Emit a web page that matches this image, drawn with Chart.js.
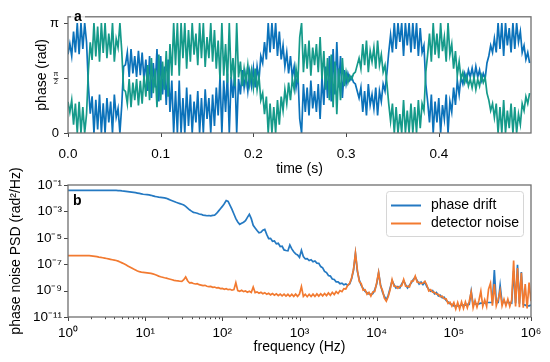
<!DOCTYPE html>
<html lang="en">
<head>
<meta charset="UTF-8" />
<title>Phase drift and PSD</title>
<script src="https://cdn.jsdelivr.net/npm/chart.js"></script>
<style>
  body { margin: 0; background: #fff; }
  canvas { position: absolute; left: 0; }
  #phaseChart { top: 0; }
  #psdChart { top: 150px; }
</style>
</head>
<body>
<canvas id="phaseChart" width="550" height="178"></canvas>
<canvas id="psdChart" width="550" height="212"></canvas>
<script>
// ---- panel a: wrapped phase (rad), one sample every 2 ms ----
const timeStep = 0.002;
const timeTicks = [0, 0.1, 0.2, 0.3, 0.4];
const phaseTicks = [0, Math.PI / 2, Math.PI];

const phaseBlue = [
  2.25, 2.55, 2.2, 2.9, 2.3, 3.14, 2.25, 3.14, 2.4, 3.14,
  2.6, 1.35, 0.55, 1.05, 0.0, 0.95, 0.1, 1.1, 0.0, 0.85,
  0.0, 1.0, 0.3, 0.9, 0.0, 1.1, 0.45, 0.7, 0.0, 0.8,
  1.9, 1.95, 2.3, 1.6, 2.4, 1.7, 2.2, 1.6, 2.35, 1.65,
  2.3, 1.5, 2.1, 1.2, 2.2, 1.0, 2.0, 1.3, 2.4, 0.9,
  2.2, 1.1, 1.9, 0.8, 2.1, 0.6, 1.5, 0.0, 1.2, 0.0,
  1.5, 0.0, 1.0, 0.0, 1.3, 0.2, 1.1, 0.0, 0.9, 0.3,
  1.2, 0.0, 1.0, 0.0, 1.25, 0.4, 1.0, 0.0, 1.1, 0.2,
  1.3, 0.5, 1.6, 0.0, 1.5, 0.6, 1.7, 0.0, 1.6, 1.0,
  1.8, 0.0, 1.55, 1.1, 1.8, 1.3, 1.7, 1.2, 1.75, 1.35,
  1.85, 1.3, 1.9, 1.5, 2.2, 2.0, 2.6, 2.1, 3.14, 2.3,
  3.14, 2.4, 3.14, 2.2, 2.9, 2.1, 2.5, 1.9, 2.3, 1.7,
  2.2, 1.6, 1.9, 1.3, 1.7, 0.4, 0.0, 1.4, 0.6, 1.3,
  0.5, 1.5, 0.7, 1.2, 0.6, 1.4, 0.4, 1.6, 0.8, 1.9,
  1.0, 2.2, 0.9, 2.4, 1.1, 2.6, 1.3, 2.2, 1.0, 1.8,
  1.4, 1.7, 1.5, 1.6, 1.45, 1.4, 1.2, 1.0, 1.3, 0.6,
  1.2, 0.5, 1.4, 0.8, 1.1, 0.7, 1.3, 0.5, 1.2, 0.9,
  1.4, 1.2, 1.7, 2.3, 2.8, 2.3, 3.14, 2.4, 3.14, 2.6,
  3.14, 2.2, 3.14, 2.5, 3.14, 2.3, 3.14, 2.4, 3.14, 2.2,
  3.0, 2.3, 2.5, 1.4, 0.9, 0.3, 1.1, 0.0, 0.9, 0.3,
  1.0, 0.0, 0.8, 0.4, 1.1, 0.0, 0.9, 0.6, 1.3, 0.8,
  1.5, 1.1, 1.6, 1.4, 1.7, 1.5, 1.8, 1.6, 1.85, 1.55,
  1.9, 1.6, 1.8, 1.5, 1.7, 1.55, 2.0, 2.2, 2.5, 2.3,
  2.7, 2.3, 3.14, 2.4, 3.14, 2.2, 3.14, 2.5, 3.0, 2.3,
  3.14, 2.4, 3.14, 2.6, 2.9, 2.3, 2.5, 2.1, 2.3, 2.0
];

const phaseTeal = [
  0.89, 0.59, 0.94, 0.24, 0.84, 0.0, 0.89, 0.0, 0.74, 0.0,
  0.54, 1.79, 2.59, 2.09, 3.14, 2.19, 3.04, 2.04, 3.14, 2.29,
  3.14, 2.14, 2.84, 2.24, 3.14, 2.04, 2.69, 2.44, 3.14, 2.34,
  1.24, 1.19, 0.84, 1.54, 0.74, 1.44, 0.94, 1.54, 0.79, 1.49,
  0.84, 1.64, 1.04, 1.94, 0.94, 2.14, 1.14, 1.84, 0.74, 2.24,
  0.94, 2.04, 1.24, 2.34, 1.04, 2.54, 1.64, 3.14, 1.94, 3.14,
  1.64, 3.14, 2.14, 3.14, 1.84, 2.94, 2.04, 3.14, 2.24, 2.84,
  1.94, 3.14, 2.14, 3.14, 1.89, 2.74, 2.14, 3.14, 2.04, 2.94,
  1.84, 2.64, 1.54, 3.14, 1.64, 2.54, 1.44, 3.14, 1.54, 2.14,
  1.34, 3.14, 1.59, 2.04, 1.34, 1.84, 1.44, 1.94, 1.39, 1.79,
  1.29, 1.84, 1.24, 1.64, 0.94, 1.14, 0.54, 1.04, 0.0, 0.84,
  0.0, 0.74, 0.0, 0.94, 0.24, 1.04, 0.64, 1.24, 0.84, 1.44,
  0.94, 1.54, 1.24, 1.84, 1.44, 2.74, 3.14, 1.74, 2.54, 1.84,
  2.64, 1.64, 2.44, 1.94, 2.54, 1.74, 2.74, 1.54, 2.34, 1.24,
  2.14, 0.94, 2.24, 0.74, 2.04, 0.54, 1.84, 0.94, 2.14, 1.34,
  1.74, 1.44, 1.64, 1.54, 1.69, 1.74, 1.94, 2.14, 1.84, 2.54,
  1.94, 2.64, 1.74, 2.34, 2.04, 2.44, 1.84, 2.64, 1.94, 2.24,
  1.74, 1.94, 1.44, 0.84, 0.34, 0.84, 0.0, 0.74, 0.0, 0.54,
  0.0, 0.94, 0.0, 0.64, 0.0, 0.84, 0.0, 0.74, 0.0, 0.94,
  0.14, 0.84, 0.64, 1.74, 2.24, 2.84, 2.04, 3.14, 2.24, 2.84,
  2.14, 3.14, 2.34, 2.74, 2.04, 3.14, 2.24, 2.54, 1.84, 2.34,
  1.64, 2.04, 1.54, 1.74, 1.44, 1.64, 1.34, 1.54, 1.29, 1.59,
  1.24, 1.54, 1.34, 1.64, 1.44, 1.59, 1.14, 0.94, 0.64, 0.84,
  0.44, 0.84, 0.0, 0.74, 0.0, 0.94, 0.0, 0.64, 0.14, 0.84,
  0.0, 0.74, 0.0, 0.54, 0.24, 0.84, 0.64, 1.04, 0.84, 1.14
];

// ---- panel b: PSD in rad^2/Hz, stored as log10 values, 40 points per decade from 1 Hz ----
const pointsPerDecade = 40;
const freqDecades = [0, 1, 2, 3, 4, 5];
const freqMinor = [1, 2, 3, 4, 5, 6, 7, 8, 9];
const psdTicks = [1e-1, 1e-3, 1e-5, 1e-7, 1e-9, 1e-11];

const driftPsdExp = [
  -1.40, -1.40, -1.40, -1.40, -1.40, -1.40, -1.40, -1.40, -1.40, -1.40,
  -1.40, -1.40, -1.40, -1.40, -1.40, -1.40, -1.40, -1.40, -1.40, -1.40,
  -1.40, -1.40, -1.40, -1.40, -1.40, -1.41,
  -1.42, -1.43, -1.45, -1.46, -1.48, -1.50, -1.52, -1.54, -1.56, -1.58,
  -1.61, -1.64, -1.67, -1.70, -1.72,
  -1.73, -1.75, -1.78, -1.82, -1.86, -1.89, -1.92, -1.94, -1.96, -1.98,
  -2.01, -2.07, -2.13, -2.19, -2.25, -2.31, -2.36, -2.41, -2.46, -2.52,
  -2.62, -2.75, -2.88, -2.98, -3.07, -3.10, -3.14, -3.20, -3.22, -3.28,
  -3.30, -3.33, -3.31, -3.34, -3.30, -3.28, -3.16, -2.98, -2.80, -2.62,
  -2.42, -2.18, -2.25, -2.55, -2.85, -3.20, -3.55, -3.80, -3.98, -3.90,
  -3.82, -3.70, -3.45, -3.22, -3.55, -4.05, -4.25, -4.45, -4.62, -4.58,
  -4.42, -4.36, -4.74, -5.06, -5.04, -5.26, -5.24, -5.46, -5.42, -5.66,
  -5.64, -5.92, -5.96, -5.98, -5.55, -5.84, -6.06, -6.22, -6.30, -6.48,
  -5.95, -6.42, -6.60, -6.58, -6.72, -6.66, -6.82, -6.76, -6.92, -6.94,
  -7.18, -7.28, -7.54, -7.64, -7.86, -7.90, -8.12, -8.16, -8.34, -8.34,
  -8.48, -8.44, -8.56, -8.50, -8.60,
  -8.50, -8.10, -7.45, -6.20, -7.55, -8.20, -8.60, -8.85, -9.05, -9.15,
  -9.25, -9.30, -9.22, -8.95, -8.50, -7.65, -8.55, -9.10, -9.45, -9.70,
  -9.35, -8.80, -8.25, -8.55, -8.80, -8.70, -8.80, -8.50, -8.25, -8.55,
  -8.80, -8.60, -8.40, -8.15, -7.98, -8.25, -8.50, -8.35, -8.55, -8.35,
  -8.70, -8.90, -9.05, -9.00, -9.25, -9.15, -9.40, -9.35, -9.55, -9.50,
  -9.75, -9.85, -10.00, -10.05,
  -10.15, -10.15, -10.15, -10.15, -10.10, -10.10, -10.10, -10.05, -10.05, -9.05,
  -10.05, -10.00, -10.00, -10.00, -9.95, -9.95, -9.95, -9.90, -9.90, -9.90,
  -9.90, -7.45, -9.90, -9.90, -8.60, -9.90, -9.90, -9.90, -9.90, -9.90,
  -9.95, -7.50, -9.95, -7.05, -10.00, -7.60, -10.05, -10.10, -10.15, -10.15,
  -10.10
];

const noisePsdExp = [
  -6.35, -6.35, -6.35, -6.35, -6.35, -6.35, -6.35, -6.35, -6.35, -6.35,
  -6.35, -6.35,
  -6.37, -6.39, -6.41, -6.43, -6.46, -6.48, -6.51, -6.54, -6.57, -6.60,
  -6.63, -6.66, -6.69, -6.72, -6.77, -6.83, -6.90, -6.97, -7.05, -7.13,
  -7.21, -7.29, -7.37, -7.44, -7.51, -7.56, -7.60, -7.62, -7.64,
  -7.66, -7.68, -7.70, -7.73, -7.78, -7.84, -7.90, -7.95, -7.99, -8.03,
  -8.06, -8.10, -8.14, -8.18, -8.22, -8.25, -8.27, -8.29, -8.30,
  -8.18, -7.97, -8.25, -8.42, -8.40, -8.46, -8.50, -8.48, -8.55, -8.58,
  -8.62, -8.60, -8.67, -8.70, -8.68, -8.75, -8.73, -8.80, -8.78, -8.85,
  -8.83, -8.90, -8.86, -8.93, -8.90, -8.97, -8.93, -8.40,
  -9.00, -9.05, -8.98, -9.08, -9.03, -9.12, -9.05, -9.14, -8.73, -9.15,
  -9.10, -9.20, -9.13, -9.24, -9.16, -9.28, -9.20, -9.32, -9.22, -9.35,
  -9.24, -9.38, -9.26, -9.40, -9.27, -9.42, -9.28, -9.43, -9.28, -9.44,
  -9.27, -9.44, -9.26,
  -8.70, -9.44, -9.28, -9.46, -9.28, -9.45, -9.27, -9.44, -9.25, -9.42,
  -9.24, -9.40, -9.22, -9.38, -9.18, -9.35, -9.13, -9.30, -9.08, -9.22,
  -9.00, -9.08, -8.85, -8.88, -8.60, -8.45, -8.05, -7.40, -6.15,
  -7.45, -8.32, -8.48, -8.97, -8.93, -9.27, -9.13, -9.42, -9.10, -9.07,
  -8.40, -7.62, -8.65, -8.98, -9.57, -9.80, -9.45, -8.92, -8.17, -8.67,
  -8.68, -8.82, -8.68, -8.62, -8.15, -8.67, -8.68, -8.72, -8.28, -8.27,
  -7.90, -8.37, -8.38, -8.47, -8.43, -8.30, -8.58, -9.02, -8.93, -9.12,
  -9.13, -9.27, -9.28, -9.47, -9.43, -9.62, -9.63, -9.97, -9.88, -10.17,
  -9.90, -10.40, -9.90, -10.40, -9.85, -10.35, -9.85, -10.30, -9.80, -9.10,
  -10.30, -9.75, -10.25, -9.75, -9.05, -10.20, -9.70, -10.20, -8.90, -8.45,
  -10.15, -8.50, -10.15, -9.65, -9.00, -10.15, -9.65, -10.15, -9.65, -10.20,
  -9.70, -6.73, -10.20, -7.30, -10.25, -7.65, -10.30, -8.50, -10.35, -8.40,
  -9.80
];

const FONT = '"Liberation Sans", Arial, sans-serif';
Chart.defaults.font.family = FONT;
Chart.defaults.color = '#000';

const SUP = { '-': '\u207b', '0': '\u2070', '1': '\u00b9', '2': '\u00b2', '3': '\u00b3',
  '4': '\u2074', '5': '\u2075', '6': '\u2076', '7': '\u2077', '8': '\u2078', '9': '\u2079' };
const pow10Label = v => '10' + String(Math.round(Math.log10(v))).split('').map(c => SUP[c]).join('');
const isDecade = v => Math.abs(Math.log10(v) - Math.round(Math.log10(v))) < 1e-9;
const isHalfPi = v => Math.abs(v - Math.PI / 2) < 1e-6;

// axis frame, tick marks and the panel letter
const framePlugin = {
  id: 'frame',
  afterDraw(chart, args, opts) {
    const { ctx, chartArea: a, scales } = chart;
    ctx.save();
    ctx.strokeStyle = '#444';
    ctx.lineWidth = 1;
    for (const s of [scales.x, scales.y]) {
      for (const t of s.ticks) {
        const len = (s.type === 'logarithmic' && !isDecade(t.value)) ? 2.2 : 4;
        const p = Math.round(s.getPixelForValue(t.value)) + 0.5;
        ctx.beginPath();
        if (s.isHorizontal()) { ctx.moveTo(p, a.bottom); ctx.lineTo(p, a.bottom + len); }
        else { ctx.moveTo(a.left, p); ctx.lineTo(a.left - len, p); }
        ctx.stroke();
      }
    }
    ctx.strokeStyle = '#6f6f6f';
    ctx.lineWidth = 1.3;
    ctx.strokeRect(a.left, a.top, a.right - a.left, a.bottom - a.top);

    // small stacked pi/2 tick label
    if (opts.halfPi) {
      const y = scales.y.getPixelForValue(Math.PI / 2);
      ctx.fillStyle = '#000';
      ctx.font = '7px ' + FONT;
      ctx.textAlign = 'center';
      ctx.textBaseline = 'middle';
      ctx.fillText('\u03c0', 56, y - 3.5);
      ctx.fillText('2', 56, y + 4);
      ctx.lineWidth = 0.7;
      ctx.strokeStyle = '#000';
      ctx.beginPath();
      ctx.moveTo(53.5, y + 0.5);
      ctx.lineTo(58.5, y + 0.5);
      ctx.stroke();
      ctx.textAlign = 'left';
    }

    ctx.fillStyle = 'rgba(255,255,255,0.75)';
    ctx.fillRect(opts.x - 3, opts.y - 11, 14, 13);
    ctx.fillStyle = '#000';
    ctx.font = 'bold 14px ' + FONT;
    ctx.textBaseline = 'alphabetic';
    ctx.fillText(opts.letter, opts.x, opts.y);
    ctx.restore();
  }
};

const legendPlugin = {
  id: 'boxLegend',
  afterDraw(chart, args, opts) {
    const { ctx } = chart;
    const x = 386.5, y = opts.top, w = 137, h = 45, r = 3;
    ctx.save();
    ctx.beginPath();
    ctx.moveTo(x + r, y);
    ctx.arcTo(x + w, y, x + w, y + h, r);
    ctx.arcTo(x + w, y + h, x, y + h, r);
    ctx.arcTo(x, y + h, x, y, r);
    ctx.arcTo(x, y, x + w, y, r);
    ctx.closePath();
    ctx.fillStyle = 'rgba(255,255,255,0.85)';
    ctx.fill();
    ctx.strokeStyle = '#d6d6d6';
    ctx.lineWidth = 1;
    ctx.stroke();
    ctx.font = '14px ' + FONT;
    ctx.textBaseline = 'middle';
    chart.data.datasets.forEach((ds, i) => {
      const ly = y + 14 + i * 18;
      ctx.strokeStyle = ds.borderColor;
      ctx.lineWidth = 2;
      ctx.beginPath();
      ctx.moveTo(391, ly);
      ctx.lineTo(421, ly);
      ctx.stroke();
      ctx.fillStyle = '#000';
      ctx.fillText(ds.label, 431, ly);
    });
    ctx.restore();
  }
};

const common = {
  responsive: false,
  animation: false,
  events: [],
  devicePixelRatio: 1
};

new Chart(document.getElementById('phaseChart'), {
  type: 'line',
  data: {
    datasets: [
      {
        label: 'phase 1',
        data: phaseBlue.map((v, i) => ({ x: i * timeStep, y: v })),
        borderColor: '#0b72ba',
        borderWidth: 1.7,
        pointRadius: 0,
        order: 2
      },
      {
        label: 'phase 2',
        data: phaseTeal.map((v, i) => ({ x: i * timeStep, y: v })),
        borderColor: '#159a8a',
        borderWidth: 1.7,
        pointRadius: 0,
        order: 1
      }
    ]
  },
  options: {
    ...common,
    layout: { padding: { left: 0, right: 19, top: 6, bottom: 0 } },
    plugins: {
      legend: { display: false },
      tooltip: { enabled: false },
      frame: { letter: 'a', x: 74, y: 21, halfPi: true }
    },
    scales: {
      x: {
        type: 'linear',
        min: 0,
        max: 0.4995,
        afterBuildTicks: s => { s.ticks = timeTicks.map(v => ({ value: v })); },
        afterFit: s => { s.height = 45; },
        grid: { display: false, drawTicks: false },
        border: { display: false },
        ticks: { padding: 13, font: { size: 13.5 }, callback: v => v.toFixed(1) },
        title: { display: true, text: 'time (s)', font: { size: 14 }, padding: { top: 0, bottom: 0 } }
      },
      y: {
        type: 'linear',
        min: 0,
        max: 3.32,
        afterBuildTicks: s => { s.ticks = phaseTicks.map(v => ({ value: v })); },
        afterFit: s => { s.width = 68; },
        grid: { display: false, drawTicks: false },
        border: { display: false },
        ticks: {
          padding: 9,
          font: { size: 13 },
          callback: v => v === 0 ? '0' : (isHalfPi(v) ? '' : '\u03c0')
        },
        title: { display: true, text: 'phase (rad)', font: { size: 14 }, padding: { top: 34, bottom: 0 } }
      }
    }
  },
  plugins: [framePlugin]
});

const freqTicks = [];
freqDecades.forEach(d => freqMinor.forEach(m => freqTicks.push(m * 10 ** d)));
freqTicks.push(1e6);

new Chart(document.getElementById('psdChart'), {
  type: 'line',
  data: {
    datasets: [
      {
        label: 'phase drift',
        data: driftPsdExp.map((e, k) => ({ x: 10 ** (k / pointsPerDecade), y: 10 ** e })),
        borderColor: '#2479c2',
        borderWidth: 1.7,
        pointRadius: 0,
        order: 2
      },
      {
        label: 'detector noise',
        data: noisePsdExp.map((e, k) => ({ x: 10 ** (k / pointsPerDecade), y: 10 ** e })),
        borderColor: '#f27a30',
        borderWidth: 1.7,
        pointRadius: 0,
        order: 1
      }
    ]
  },
  options: {
    ...common,
    layout: { padding: { left: 0, right: 19, top: 35, bottom: 0 } },
    plugins: {
      legend: { display: false },
      tooltip: { enabled: false },
      frame: { letter: 'b', x: 73, y: 55 },
      boxLegend: { top: 41.5 }
    },
    scales: {
      x: {
        type: 'logarithmic',
        min: 1,
        max: 1e6,
        afterBuildTicks: s => { s.ticks = freqTicks.map(v => ({ value: v })); },
        afterFit: s => { s.height = 45; },
        grid: { display: false, drawTicks: false },
        border: { display: false },
        ticks: { autoSkip: false, maxRotation: 0, padding: 8, font: { size: 13.5 },
          callback: v => isDecade(v) ? pow10Label(v) : '' },
        title: { display: true, text: 'frequency (Hz)', font: { size: 14 }, padding: { top: 0, bottom: 6.6 } }
      },
      y: {
        type: 'logarithmic',
        min: 1e-11,
        max: 1e-1,
        afterBuildTicks: s => { s.ticks = psdTicks.map(v => ({ value: v })); },
        afterFit: s => { s.width = 68; },
        grid: { display: false, drawTicks: false },
        border: { display: false },
        ticks: { padding: 6, font: { size: 13.5 }, callback: v => pow10Label(v) },
        title: { display: true, text: 'phase noise PSD (rad\u00b2/Hz)', font: { size: 14 }, padding: { top: 7.6, bottom: 0 } }
      }
    }
  },
  plugins: [framePlugin, legendPlugin]
});
</script>
</body>
</html>
